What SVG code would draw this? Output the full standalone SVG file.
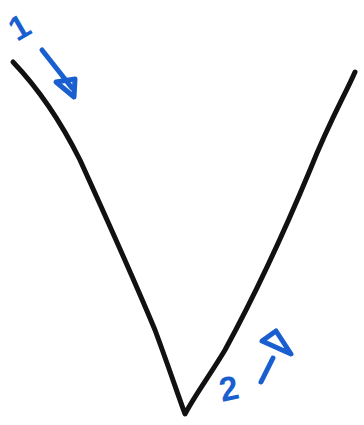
<svg xmlns="http://www.w3.org/2000/svg" width="364" height="425" viewBox="0 0 364 425">
<style>
.v{fill:none;stroke:#111;stroke-width:5;stroke-linecap:round;stroke-linejoin:round}
.b{fill:none;stroke:#1a5fd0;stroke-width:5;stroke-linecap:round;stroke-linejoin:round}
.t{font-family:"Liberation Sans",Arial,sans-serif;fill:#1a5fd0;font-size:34px;font-weight:bold}
</style>
<rect width="364" height="425" fill="#fff"/>
<g id="connectors">
<path class="v" d="M13,62 C35,85 60,120 80,160 C105,215 130,270 155,330 C168,365 178,395 185,414 C195,395 210,375 225,350 C255,295 285,230 310,170 C330,120 345,95 355,72"/>
</g>
<g id="label1">
<text class="t" transform="translate(17,42) rotate(-30)">1</text>
<path class="b" d="M42,50 L72,88"/>
<path class="b" d="M56,82 L75,79 L74,97 Z"/>
</g>
<g id="label2">
<text class="t" transform="translate(222,402) rotate(-12)">2</text>
<path class="b" d="M261,382 L273,358"/>
<path class="b" d="M262,341 L276,331 L291,354 Z"/>
</g>
</svg>
